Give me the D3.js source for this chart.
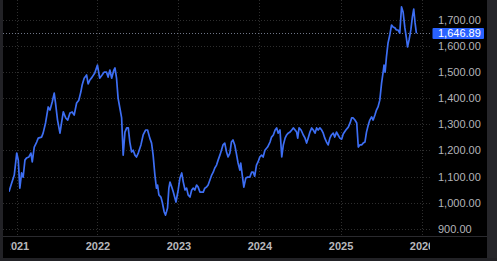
<!DOCTYPE html>
<html>
<head>
<meta charset="utf-8">
<script src="https://cdn.jsdelivr.net/npm/d3@7"></script>
<style>
  html, body { margin: 0; padding: 0; background: #000; }
  svg { display: block; }
  text { font-family: "Liberation Sans", Arial, sans-serif; }
</style>
</head>
<body>
<svg id="chart" width="497" height="261"></svg>
<script>
// ---- data ----
const dates = [
"2020-11-28","2020-12-10","2020-12-22","2021-01-02","2021-01-09","2021-01-16","2021-01-24","2021-01-31",
"2021-02-08","2021-02-15","2021-02-26","2021-03-07","2021-03-13","2021-03-22","2021-04-02","2021-04-09",
"2021-04-24","2021-05-01","2021-05-12","2021-05-24","2021-06-01","2021-06-11","2021-06-20","2021-06-26",
"2021-07-05","2021-07-16","2021-07-23","2021-07-31","2021-08-11","2021-08-20","2021-08-30","2021-09-09",
"2021-09-18","2021-09-29","2021-10-09","2021-10-18","2021-10-24","2021-11-02","2021-11-13","2021-11-20",
"2021-11-28","2021-12-08","2021-12-20","2022-01-01","2022-01-11","2022-01-22","2022-01-31","2022-02-11",
"2022-02-18","2022-02-26","2022-03-06","2022-03-16","2022-03-21","2022-03-28","2022-04-04","2022-04-12",
"2022-04-20","2022-04-27","2022-05-05","2022-05-13","2022-05-20","2022-05-27","2022-06-04","2022-06-11",
"2022-06-19","2022-06-26","2022-07-04","2022-07-16","2022-07-26","2022-08-06","2022-08-15","2022-08-25",
"2022-09-02","2022-09-09","2022-09-17","2022-09-24","2022-09-29","2022-10-05","2022-10-14","2022-10-20",
"2022-10-29","2022-11-04","2022-11-13","2022-11-19","2022-11-24","2022-12-02","2022-12-09","2022-12-21",
"2022-12-31","2023-01-08","2023-01-16","2023-01-23","2023-01-31","2023-02-07","2023-02-14","2023-02-22",
"2023-03-02","2023-03-09","2023-03-16","2023-03-24","2023-03-31","2023-04-08","2023-04-23","2023-04-30",
"2023-05-08","2023-05-15","2023-05-23","2023-05-31","2023-06-07","2023-06-14","2023-06-22","2023-06-29",
"2023-07-07","2023-07-14","2023-07-21","2023-07-29","2023-08-06","2023-08-13","2023-08-21","2023-08-28",
"2023-09-04","2023-09-12","2023-09-19","2023-09-27","2023-10-05","2023-10-09","2023-10-17","2023-10-23",
"2023-11-01","2023-11-09","2023-11-19","2023-11-27","2023-12-04","2023-12-11","2023-12-19","2023-12-26",
"2024-01-03","2024-01-11","2024-01-18","2024-01-26","2024-02-07","2024-02-18","2024-02-25","2024-03-04",
"2024-03-12","2024-03-19","2024-03-26","2024-04-03","2024-04-11","2024-04-18","2024-04-26","2024-05-03",
"2024-05-10","2024-05-18","2024-05-26","2024-06-02","2024-06-10","2024-06-17","2024-06-22","2024-06-28",
"2024-07-07","2024-07-17","2024-07-25","2024-08-01","2024-08-08","2024-08-16","2024-08-24","2024-08-31",
"2024-09-08","2024-09-15","2024-09-22","2024-09-30","2024-10-08","2024-10-15","2024-10-22","2024-10-30",
"2024-11-06","2024-11-14","2024-11-21","2024-11-29","2024-12-06","2024-12-14","2024-12-21","2024-12-29",
"2025-01-06","2025-01-13","2025-01-25","2025-02-05","2025-02-13","2025-02-20","2025-02-27","2025-03-07",
"2025-03-15","2025-03-22","2025-03-29","2025-04-06","2025-04-13","2025-04-21","2025-04-28","2025-05-06",
"2025-05-13","2025-05-21","2025-05-28","2025-06-05","2025-06-12","2025-06-19","2025-06-27","2025-07-05",
"2025-07-12","2025-07-16","2025-07-21","2025-07-27","2025-08-03","2025-08-11","2025-08-19","2025-08-26",
"2025-09-03","2025-09-10","2025-09-17","2025-09-25","2025-10-03","2025-10-10","2025-10-18","2025-10-25",
"2025-10-30","2025-11-06","2025-11-14","2025-11-21","2025-11-27","2025-12-03","2025-12-09"
];
const prices = [
1042,1075,1106,1190,1163,1056,1114,1098,
1163,1171,1175,1190,1156,1213,1232,1247,
1251,1266,1305,1366,1354,1385,1419,1381,
1316,1266,1305,1347,1324,1316,1343,1347,
1335,1381,1392,1423,1450,1476,1488,1454,
1469,1480,1496,1526,1476,1488,1499,1499,
1480,1507,1476,1507,1515,1476,1400,1362,
1324,1182,1270,1286,1286,1232,1194,1201,
1182,1175,1190,1221,1259,1278,1278,1247,
1228,1182,1106,1056,1068,1030,1022,1003,
965,953,980,1056,1079,1060,1041,1003,
1049,1095,1114,1079,1049,1056,1030,1022,
1049,1056,1049,1068,1060,1041,1041,1056,
1060,1068,1087,1106,1117,1133,1144,1163,
1182,1201,1221,1228,1194,1175,1190,1232,
1240,1221,1190,1152,1125,1152,1098,1060,
1095,1098,1098,1117,1117,1102,1144,1156,
1175,1182,1175,1201,1213,1232,1251,1259,
1278,1286,1266,1278,1175,1221,1247,1259,
1266,1270,1278,1286,1278,1270,1247,1286,
1278,1259,1247,1228,1247,1270,1286,1278,
1266,1286,1278,1286,1278,1266,1247,1232,
1221,1247,1259,1266,1251,1270,1259,1247,
1243,1263,1278,1289,1305,1324,1324,1316,
1305,1213,1221,1221,1228,1232,1270,1297,
1316,1328,1316,1335,1354,1366,1392,1457,
1499,1526,1499,1557,1610,1641,1679,1671,
1668,1660,1660,1648,1748,1729,1668,1629,
1595,1622,1660,1710,1740,1687,1646.89
];
const yTicks = [900, 1000, 1100, 1200, 1300, 1400, 1500, 1600, 1700];
const yearTicks = ["2021-01-01","2022-01-01","2023-01-01","2024-01-01","2025-01-01","2026-01-01"];
const lastPrice = 1646.89;

// ---- layout ----
const W = 497, H = 261;
const plotLeft = 3, plotRight = 432, plotBottom = 236.5;
const parse = d3.timeParse("%Y-%m-%d");
const data = dates.map((d, i) => ({ date: parse(d), value: prices[i] }));

const x = d3.scaleTime()
  .domain([parse("2021-01-01"), parse("2026-01-01")])
  .range([16.5, 421.5]);
const y = d3.scaleLinear().domain([900, 1700]).range([229, 19.5]);

const svg = d3.select("#chart");

// background & frame
svg.append("rect").attr("x", 0).attr("y", 0).attr("width", W).attr("height", H).attr("fill", "#000");
svg.append("rect").attr("x", 0).attr("y", 0).attr("width", 3).attr("height", H).attr("fill", "#222226");
svg.append("rect").attr("x", 487).attr("y", 0).attr("width", 10).attr("height", H).attr("fill", "#26262a");
svg.append("rect").attr("x", 0).attr("y", 258).attr("width", W).attr("height", 3).attr("fill", "#222226");

const defs = svg.append("defs");
defs.append("clipPath").attr("id", "plotClip")
  .append("rect").attr("x", 9).attr("y", 0).attr("width", plotRight - 9).attr("height", plotBottom);
defs.append("clipPath").attr("id", "labelClip")
  .append("rect").attr("x", 10.5).attr("y", plotBottom).attr("width", 430 - 10.5).attr("height", 22);

// horizontal grid
svg.append("g").selectAll("line").data(yTicks).join("line")
  .attr("x1", plotLeft).attr("x2", plotRight)
  .attr("y1", d => Math.round(y(d)) + 0.5).attr("y2", d => Math.round(y(d)) + 0.5)
  .attr("stroke", "#2e2e2e").attr("stroke-width", 1).attr("stroke-dasharray", "1,2");

// vertical grid
svg.append("g").selectAll("line").data(yearTicks.map(parse)).join("line")
  .attr("x1", d => Math.round(x(d)) + 0.5).attr("x2", d => Math.round(x(d)) + 0.5)
  .attr("y1", 0).attr("y2", plotBottom)
  .attr("stroke", "#2e2e2e").attr("stroke-width", 1).attr("stroke-dasharray", "1,2");

// last price dotted line
svg.append("line")
  .attr("x1", plotLeft).attr("x2", plotRight)
  .attr("y1", Math.round(y(lastPrice)) + 0.5).attr("y2", Math.round(y(lastPrice)) + 0.5)
  .attr("stroke", "#6f7687").attr("stroke-width", 1).attr("stroke-dasharray", "1,2");

// bottom axis line
svg.append("line").attr("x1", plotLeft).attr("x2", 487)
  .attr("y1", 236.5).attr("y2", 236.5).attr("stroke", "#2a2a2e");

// series line
svg.append("g").attr("clip-path", "url(#plotClip)")
  .append("path").datum(data)
  .attr("fill", "none")
  .attr("stroke", "#3d6ef3")
  .attr("stroke-width", 1.7)
  .attr("stroke-linejoin", "round")
  .attr("d", d3.line().x(d => x(d.date)).y(d => y(d.value)));

// y axis (right)
const yAxis = d3.axisRight(y).tickValues(yTicks).tickFormat(d3.format(",.2f")).tickSize(0).tickPadding(0);
const gy = svg.append("g").attr("transform", "translate(438,0)").call(yAxis);
gy.select(".domain").remove();
gy.selectAll("text").attr("fill", "#b4b4b8").attr("font-size", 11)
  .attr("font-family", "Liberation Sans, Arial, sans-serif");

// x axis
const xAxis = d3.axisBottom(x).tickValues(yearTicks.map(parse)).tickFormat(d3.timeFormat("%Y")).tickSize(0).tickPadding(0);
const gx = svg.append("g").attr("clip-path", "url(#labelClip)")
  .append("g").attr("transform", "translate(0,242)").call(xAxis);
gx.select(".domain").remove();
gx.selectAll("text").attr("fill", "#b8b8bc").attr("font-size", 11).attr("font-weight", "bold")
  .attr("font-family", "Liberation Sans, Arial, sans-serif");

// last price label
const ly = y(lastPrice);
svg.append("rect").attr("x", 432.5).attr("y", ly - 5.5).attr("width", 51.5).attr("height", 11)
  .attr("fill", "#2962ff").attr("rx", 1);
svg.append("text").attr("x", 438).attr("y", ly).attr("dy", "0.35em")
  .attr("fill", "#ffffff").attr("font-size", 11)
  .text(d3.format(",.2f")(lastPrice));
</script>
</body>
</html>
